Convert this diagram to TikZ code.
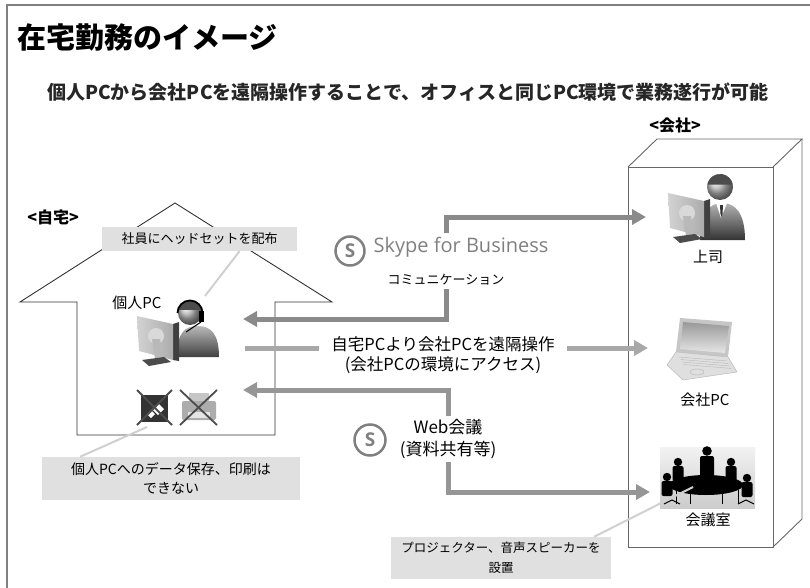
\documentclass[tikz,border=0pt]{standalone}
\usepackage{fontspec}
\setmainfont{Noto Sans CJK JP}
\newfontfamily\skypefont{Open Sans}
\usepackage{tikz}
\usetikzlibrary{arrows.meta}
\definecolor{framegray}{RGB}{128,128,128}
\definecolor{notefill}{RGB}{224,224,224}
\definecolor{leadgray}{RGB}{208,208,208}
\definecolor{flowA}{RGB}{138,138,138}
\definecolor{flowB}{RGB}{168,168,168}
\definecolor{flowC}{RGB}{150,150,150}
\definecolor{skypegray}{RGB}{128,128,128}
\newcommand{\fsz}[2]{\fontsize{#1}{#2}\selectfont}
\newcommand{\drawcross}[4]{\draw[crossline] (#1,#2)--(#3,#4) (#3,#2)--(#1,#4);}
% desk monitor seen from behind, #1,#2 = top left corner
\newcommand{\drawmonitor}[2]{
  \begin{scope}[shift={(#1,#2)}]
    \fill[black!75] (36,10) -- (42,8) -- (42,47) -- (36,46) -- cycle;
    \shade[left color=gray!35, right color=gray!65] (0,2) -- (36,10) -- (36,46) -- (2,37) -- cycle;
    \fill[gray!30] (19,22) circle (8);
    \fill[gray!55] (15,25) -- (23,25) -- (26,44) -- (18,45) -- cycle;
    \fill[black!70] (5,46) -- (27,43) -- (34,48) -- (12,52) -- cycle;
  \end{scope}
}
% seated person at the table, #1,#2 = head centre
\newcommand{\drawsitter}[2]{
  \fill[black] (#1,#2) circle (4.2);
  \fill[black, rounded corners=2pt] (#1-5.5,#2+4) rectangle (#1+5.5,#2+19);
}

\begin{document}
\begin{tikzpicture}[x=1pt,y=-1pt,>={Triangle[length=14pt,width=15pt]},
  notebox/.style={fill=notefill, align=center, inner sep=0pt, font=\fsz{13}{19}},
  leadline/.style={draw=leadgray, line width=2pt},
  crossline/.style={draw=black!70, line width=1.8pt},
  flowline/.style={line width=5pt},
  iconlbl/.style={font=\fsz{15}{15}},
  placelbl/.style={font=\fsz{16}{16}\bfseries},
  slogo/.style={circle, draw=skypegray, line width=2.5pt, text=skypegray, inner sep=0pt, font=\skypefont\bfseries\fsz{19}{19}}]
\useasboundingbox (0,0) rectangle (810,588);
\draw[framegray, line width=2.5pt] (7,600) -- (7,5) -- (820,5);

\node[anchor=west, font=\fsz{29}{29}\bfseries] (title) at (14,37) {在宅勤務のイメージ};
\node[font=\fsz{19}{19}\bfseries, text=black!85] (subtitle) at (408,92) {個人PCから会社PCを遠隔操作することで、オフィスと同じPC環境で業務遂行が可能};

% home
\node[placelbl] (homelbl) at (53,217) {<自宅>};
\draw[black!80, line width=0.9pt] (77,435) -- (77,302) -- (20,302) -- (175,203) -- (332,302) -- (275,302) -- (275,435) -- cycle;
\node[notebox, minimum width=195pt, minimum height=24pt] (headnote) at (199.5,239) {社員にヘッドセットを配布};
\node[notebox, font=\fsz{14}{19}, minimum width=258pt, minimum height=43pt] (nosave) at (171,478.5) {個人PCへのデータ保存、印刷は\\できない};
\node[iconlbl] (homepc) at (137,303) {個人PC};

% user with headset
\shade[ball color=gray!60] (190,313) circle (12);
\fill[black!70] (190,313) ++(195:12) arc[start angle=195, end angle=345, radius=12] -- cycle;
\shade[top color=gray!55, bottom color=black!75] (177,357) .. controls (177,332) and (185,326) .. (198,326) .. controls (211,326) and (219,334) .. (219,357) -- cycle;
\draw[black, line width=1.8pt] (190,313) ++(180:12.5) arc[start angle=180, end angle=360, radius=12.5];
\fill[black] (199,311) rectangle (204,322);
\draw[black, line width=1pt] (201,322) -- (186,332);
\drawmonitor{137}{314}

% no local storage, no printing
\fill[black!80] (141,395) rectangle (168,422);
\fill[white] (158,403) -- (164,409) -- (158,415) -- (152,409) -- cycle;
\fill[white] (151,410) -- (155,414) -- (151,418) -- (147,414) -- cycle;
\drawcross{137}{390}{172}{425}
\fill[gray!45] (189,393) rectangle (209,402);
\fill[gray!65, rounded corners=2pt] (182,401) rectangle (216,420);
\fill[gray!20] (188,412) rectangle (210,418);
\drawcross{180}{390}{217}{425}

% office
\node[placelbl] (officelbl) at (675,125) {<会社>};
\draw[black!60, line width=0.9pt] (628,167) rectangle (773,547);
\draw[black!60, line width=0.9pt] (628,167) -- (657,139) -- (802,139) -- (773,167);
\draw[black!60, line width=0.9pt] (802,139) -- (802,519) -- (773,547);

% boss
\shade[ball color=gray!55] (720,187) circle (13);
\fill[black!70] (720,187) ++(190:13) arc[start angle=190, end angle=350, radius=13] -- cycle;
\shade[top color=gray!60, bottom color=black!80] (700,240) .. controls (700,214) and (709,203) .. (722,203) .. controls (736,203) and (745,214) .. (745,240) -- cycle;
\fill[white] (716,203) -- (727,203) -- (721,218) -- cycle;
\fill[black!80] (720,205) -- (723,205) -- (722.5,214) -- (721.5,217) -- (720.5,214) -- cycle;
\drawmonitor{668}{191}
\node[iconlbl] (bosslbl) at (708,257) {上司};

% office PC
\fill[gray!45] (680,318) -- (732,322) -- (728,357) -- (676,352) -- cycle;
\shade[top color=gray!80, bottom color=gray!20] (683,322) -- (729,326) -- (725,353) -- (680,349) -- cycle;
\fill[gray!25, draw=gray!55, line width=0.5pt] (676,352) -- (728,357) -- (737,372) -- (683,380) -- (667,365) -- cycle;
\foreach \k in {0,...,3}
  \draw[gray!55, line width=0.4pt] (679+\k*1.5,357+\k*2.5) -- (727+\k*1.5,361+\k*2.5);
\draw[gray!60] (697,372) ellipse (7 and 3);
\node[iconlbl] (pclbl) at (705,400) {会社PC};

% meeting room
\shade[top color=gray!10, bottom color=gray!40] (660,447) rectangle (755,508);
\fill[black] (707,451) circle (4.8);
\fill[black, rounded corners=2pt] (700,456) rectangle (714,484);
\drawsitter{678}{462}
\drawsitter{731}{462}
\drawsitter{667}{477}
\drawsitter{747}{478}
\fill[black] (706,485) ellipse (37 and 10);
\foreach \lx in {676,690,722,738}
  \draw[black, line width=1pt] (\lx,490) -- (\lx,504);
\draw[black, line width=1pt] (664,504) -- (672,500) -- (680,504) (738,504) -- (746,500) -- (754,504);
\node[iconlbl] (roomlbl) at (708,520) {会議室};
\node[notebox, font=\fsz{12.5}{20}, minimum width=220pt, minimum height=42pt] (projnote) at (501,558) {プロジェクター、音声スピーカーを\\設置};

% callout leaders
\coordinate (headset) at (205,296);
\coordinate (nostore) at (147,427);
\coordinate (roomspot) at (693,487);
\draw[leadline] ([xshift=40pt]headnote.south) -- (headset);
\draw[leadline] ([xshift=-91pt]nosave.north) -- (nostore);
\draw[leadline] ([xshift=93pt]projnote.north) -- (roomspot);

% connections
\coordinate (homeA) at (243,319);
\coordinate (bossIn) at (646,217);
\coordinate (homeB) at (245,348);
\coordinate (pcIn) at (648,348);
\coordinate (homeC) at (243,390);
\coordinate (roomIn) at (650,492);

\node[text=skypegray, font=\skypefont\fsz{20}{20}] (skypetxt) at (461,247) {Skype for Business};
\node[font=\fsz{13}{13}] (commtxt) at (446,280) {コミュニケーション};
\node[slogo, minimum size=29pt] (slogoA) at (350,251) {S};
\draw[flowline, flowA, <-] (homeA) -| (commtxt.south);
\draw[flowline, flowA, ->] (commtxt.south |- skypetxt.north) |- (bossIn);

\node[font=\fsz{16.5}{20}, align=center, inner xsep=12pt] (remotetxt) at (443,355) {自宅PCより会社PCを遠隔操作\\(会社PCの環境にアクセス)};
\draw[flowline, flowB] (homeB) -- (homeB -| remotetxt.west);
\draw[flowline, flowB, ->] (homeB -| remotetxt.east) -- (pcIn);

\node[font=\fsz{17}{22}, align=center] (webtxt) at (448,439) {Web会議\\(資料共有等)};
\node[slogo, minimum size=31pt] (slogoB) at (370,440) {S};
\draw[flowline, flowC, <-] (homeC) -| (webtxt.north);
\draw[flowline, flowC, ->] (webtxt.south) |- (roomIn);
\end{tikzpicture}
\end{document}
